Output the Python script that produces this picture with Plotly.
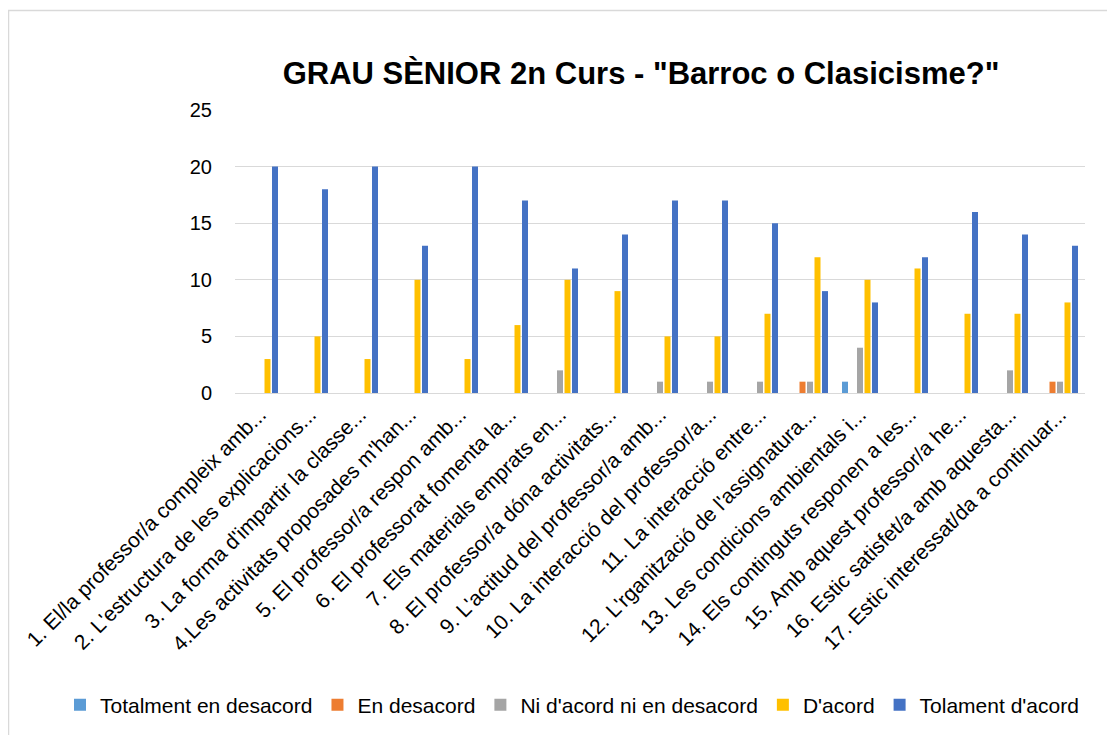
import plotly.graph_objects as go

categories = [
    "1. El/la professor/a compleix amb...",
    "2. L'estructura de les explicacions...",
    "3. La forma d'impartir la classe...",
    "4.Les activitats proposades m'han...",
    "5. El professor/a respon amb...",
    "6. El professorat fomenta la...",
    "7. Els materials emprats en...",
    "8. El professor/a dóna activitats...",
    "9. L'actitud del professor/a amb...",
    "10. La interacció del professor/a...",
    "11. La interacció entre...",
    "12. L'rganització de l'assignatura...",
    "13. Les condicions ambientals i...",
    "14. Els continguts responen a les...",
    "15. Amb aquest professor/a he...",
    "16. Estic satisfet/a amb aquesta...",
    "17. Estic interessat/da a continuar...",
]
series_names = ["Totalment en desacord", "En desacord", "Ni d'acord ni en desacord", "D'acord", "Tolament d'acord"]
totalment_desacord = [0, 0, 0, 0, 0, 0, 0, 0, 0, 0, 0, 0, 1, 0, 0, 0, 0]
en_desacord        = [0, 0, 0, 0, 0, 0, 0, 0, 0, 0, 0, 1, 0, 0, 0, 0, 1]
ni_acord           = [0, 0, 0, 0, 0, 0, 2, 0, 1, 1, 1, 1, 4, 0, 0, 2, 1]
d_acord            = [3, 5, 3, 10, 3, 6, 10, 9, 5, 5, 7, 12, 10, 11, 7, 7, 8]
tolament_acord     = [20, 18, 20, 13, 20, 17, 11, 14, 17, 17, 15, 9, 8, 12, 16, 14, 13]
y_ticks = [0, 5, 10, 15, 20, 25]

colors = ["#5B9BD5", "#ED7D31", "#A5A5A5", "#FFC000", "#4472C4"]
values = [totalment_desacord, en_desacord, ni_acord, d_acord, tolament_acord]

# page has an 8px body margin; the figure is sized/positioned to compensate
W, H = 1107, 727
L, R, T, B = 227, 30, 102, 342
pw, ph = W - L - R, H - T - B

fig = go.Figure()
for name, vals, col in zip(series_names, values, colors):
    fig.add_trace(go.Bar(x=categories, y=vals, name=name, marker_color=col,
                         marker_line_width=0))

font = "Liberation Sans"
fig.update_layout(
    width=W, height=H,
    margin=dict(l=L, r=R, t=T, b=B, autoexpand=False),
    paper_bgcolor="white", plot_bgcolor="white",
    barmode="group", bargap=0.25, bargroupgap=0.2,
    title=dict(text='<b>GRAU SÈNIOR 2n Curs - "Barroc o Clasicisme?"</b>',
               x=633 / W, xanchor="center", y=1 - 65 / H, yanchor="middle",
               font=dict(family=font, size=31, color="black")),
    font=dict(family=font, color="black"),
    legend=dict(orientation="h", xref="paper", yref="paper",
                x=(52 - L) / pw, xanchor="left",
                y=(H - B - 697) / ph, yanchor="middle",
                font=dict(family=font, size=21, color="black"),
                itemwidth=30, traceorder="normal"),
    showlegend=True,
)
fig.update_xaxes(tickangle=-45, tickfont=dict(family=font, size=21, color="black"),
                 showline=True, linecolor="#d9d9d9", linewidth=1, ticks="",
                 showgrid=False)
fig.update_yaxes(range=[0, 25], tickvals=y_ticks, tickfont=dict(family=font, size=20, color="black"),
                 showgrid=True, gridcolor="#d9d9d9", gridwidth=1, zeroline=False,
                 showline=False, ticks="", ticklabelstandoff=22)
fig.add_shape(type="rect", xref="paper", yref="paper",
              x0=(0.5 - L) / pw, x1=(W + 20 - L) / pw,
              y0=(-20 - B) / ph, y1=(H - B - 2.5) / ph,
              line=dict(color="#d9d9d9", width=1.5), fillcolor="rgba(0,0,0,0)", layer="below")
fig.write_html("out.html")
